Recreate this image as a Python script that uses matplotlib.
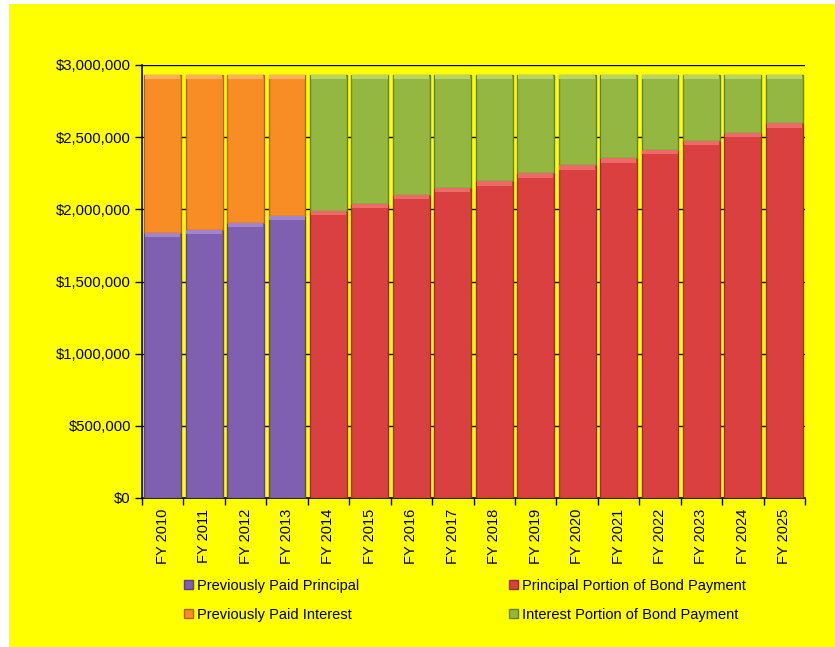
import numpy as np
import matplotlib.pyplot as plt
from matplotlib.patches import Rectangle
from matplotlib.ticker import FuncFormatter, FixedLocator

plt.rcParams['font.family'] = ['Liberation Sans', 'DejaVu Sans']

years = ["FY 2010", "FY 2011", "FY 2012", "FY 2013", "FY 2014", "FY 2015",
         "FY 2016", "FY 2017", "FY 2018", "FY 2019", "FY 2020", "FY 2021",
         "FY 2022", "FY 2023", "FY 2024", "FY 2025"]
total_payment = 2930000
prev_principal = [1838000, 1857000, 1907000, 1956000]
prev_interest = [total_payment - p for p in prev_principal]
bond_principal = [1990000, 2039000, 2099000, 2148000, 2194000, 2250000,
                  2305000, 2353000, 2411000, 2473000, 2529000, 2596000]
bond_interest = [total_payment - p for p in bond_principal]

c_purple = "#7f5fb0"
c_orange = "#f98d25"
c_red = "#d9403f"
c_green = "#93b741"
hi = {c_purple: "#a184d0", c_orange: "#fbb060", c_red: "#ec6a68", c_green: "#b6d46a"}

fig = plt.figure(figsize=(8.35, 6.47), dpi=100, facecolor="white")
# yellow chart area (white strip on left/top)
fig.patches.append(Rectangle((9/835, 0), 1 - 9/835, 1 - 4/647,
                             transform=fig.transFigure, facecolor="#ffff00",
                             edgecolor="none", zorder=-10))

ax = fig.add_axes([142/835, 1 - 498/647, (805 - 142)/835, (498 - 65)/647])
ax.set_facecolor("none")

x = np.arange(len(years))
xp = x[:4]
xb = x[4:]
w = 0.89
band = 30000  # bevel highlight at the top of each segment


def seg(xs, vals, bottom, color, edge, label):
    bottom = np.zeros(len(vals)) if bottom is None else np.asarray(bottom, float)
    vals = np.asarray(vals, float)
    b = ax.bar(xs, vals, w, bottom=bottom, color=color, edgecolor=edge, lw=1,
               zorder=3, label=label)
    ax.bar(xs, band, w * 0.96, bottom=bottom + vals - band, color=hi[color],
           lw=0, zorder=4)
    return b


bp = seg(xp, prev_principal, None, c_purple, "#5a4380", "Previously Paid Principal")
bi = seg(xp, prev_interest, prev_principal, c_orange, "#b0631a", "Previously Paid Interest")
rp = seg(xb, bond_principal, None, c_red, "#963030", "Principal Portion of Bond Payment")
gi = seg(xb, bond_interest, bond_principal, c_green, "#67812e", "Interest Portion of Bond Payment")

ax.set_xlim(-0.5, len(years) - 0.5)
ax.set_ylim(0, 3000000)
ax.set_yticks(np.arange(0, 3000001, 500000))
ax.yaxis.set_major_formatter(FuncFormatter(lambda v, p: "${:,.0f}".format(v)))
ax.grid(axis="y", color="black", lw=1, zorder=0)
ax.set_axisbelow(True)

ax.set_xticks(x)
ax.set_xticklabels(years, rotation=90)
ax.xaxis.set_minor_locator(FixedLocator(np.arange(-0.5, len(years), 1)))
ax.tick_params(axis="x", which="major", length=0, pad=8, labelsize=10.5)
ax.tick_params(axis="x", which="minor", length=5, width=1, direction="out")
ax.tick_params(axis="y", length=5, width=1, direction="out", labelsize=10.7, pad=3)

for s in ["top", "right"]:
    ax.spines[s].set_visible(False)
ax.spines["left"].set_linewidth(1.2)
ax.spines["bottom"].set_linewidth(1.2)

fig.legend(handles=[bp, bi, rp, gi], ncol=2, loc="upper left",
           bbox_to_anchor=(184/835, 1 - 579/647), frameon=False, fontsize=10.5,
           handlelength=0.6, handleheight=0.6, handletextpad=0.3,
           labelspacing=1.0, columnspacing=10.25, borderpad=0, borderaxespad=0)

fig.savefig("out.png", dpi=100, facecolor=fig.get_facecolor())
